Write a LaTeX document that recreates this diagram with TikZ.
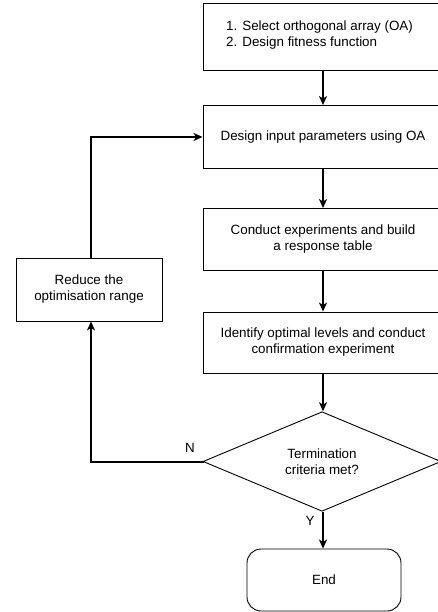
\documentclass[tikz,border=0pt]{standalone}
\usepackage{fontspec}
\setmainfont{Liberation Sans}
\usetikzlibrary{arrows.meta,shapes.geometric}
\begin{document}
\begin{tikzpicture}[x=1pt,y=-1pt,
  box/.style={draw=black,line width=0.9pt,fill=white,inner sep=0pt,align=center,font=\fontsize{13.4}{16}\selectfont},
  dec/.style={draw=black,line width=0.9pt,diamond,inner sep=0pt,minimum width=238pt,minimum height=94pt,align=center,font=\fontsize{13.4}{16}\selectfont},
  arr/.style={line width=2pt,-{Stealth[length=9pt,width=8pt,inset=2.5pt]}},
  lbl/.style={font=\fontsize{13.4}{16}\selectfont,inner sep=0pt}]
\useasboundingbox (0,0) rectangle (438,612);
\clip (0,0) rectangle (438,612);
\node[box,minimum width=240pt,minimum height=67pt] (b1) at (323,36.5) {};
\node[lbl,anchor=west,align=left] (t1) at (226,35.5) {1. Select orthogonal array (OA)\\2. Design fitness function};
\node[box,minimum width=240pt,minimum height=63pt] (b2) at (323,137) {Design input parameters using OA};
\node[box,minimum width=240pt,minimum height=62pt] (b3) at (323,239.5) {Conduct experiments and build\\a response table};
\node[box,minimum width=240pt,minimum height=61pt] (b4) at (323,342.5) {Identify optimal levels and conduct\\confirmation experiment};
\node[dec] (d) at (322,461.5) {Termination\\criteria met?};
\node[box,rounded corners=14pt,minimum width=154pt,minimum height=62pt] (e) at (324,580) {End};
\node[box,minimum width=146pt,minimum height=63pt] (r) at (89,289.5) {Reduce the\\optimisation range};
\draw[arr] (b1.south -| 323,0) -- (b2.north -| 323,0);
\draw[arr] (b2.south -| 323,0) -- (b3.north -| 323,0);
\draw[arr] (b3.south -| 323,0) -- (b4.north -| 323,0);
\draw[arr] (b4.south -| 323,0) -- (d.north -| 323,0);
\draw[arr] (d.south -| 323,0) -- (e.north -| 323,0);
\draw[arr,line cap=rect] (d.west) -| (91,0 |- r.south);
\draw[arr] (91,0 |- r.north) |- (b2.west);
\node[lbl] (n) at (190,448) {N};
\node[lbl] (y) at (310,521) {Y};
\end{tikzpicture}
\end{document}
